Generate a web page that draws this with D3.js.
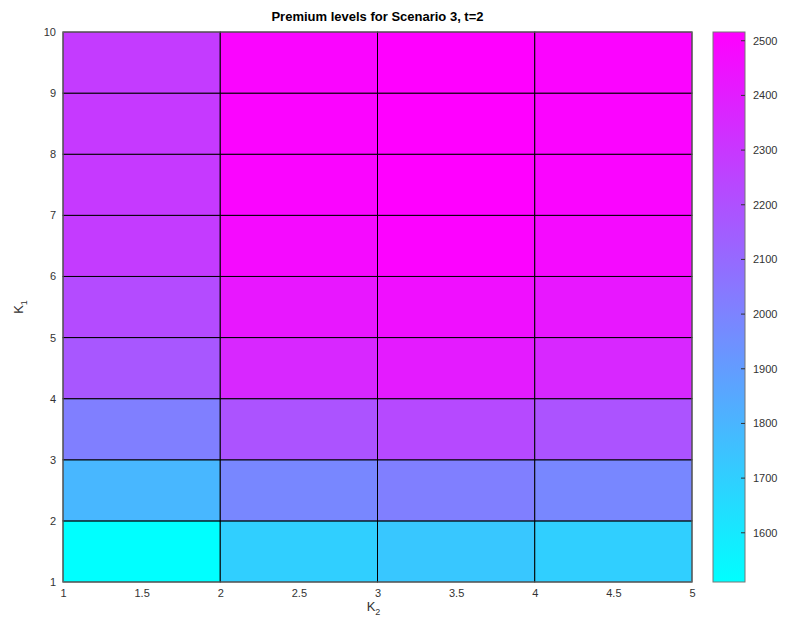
<!DOCTYPE html>
<html>
<head>
<meta charset="utf-8">
<script src="https://cdn.jsdelivr.net/npm/d3@7"></script>
<style>
  body { margin: 0; background: #fff; }
  text { font-family: "Liberation Sans", Arial, sans-serif; }
</style>
</head>
<body>
<svg id="chart" width="787" height="625"></svg>
<script>
// grid edges (pcolor style: last row/column of data is dropped)
var k2Edges = [1, 2, 3, 4, 5];
var k1Edges = [1, 2, 3, 4, 5, 6, 7, 8, 9, 10];
// premium per cell, one row per K1 band (bottom to top), one value per K2 band
var premium = [
  [1510, 1700, 1730, 1700],
  [1795, 1985, 2015, 1985],
  [2015, 2190, 2228, 2190],
  [2172, 2362, 2408, 2362],
  [2220, 2425, 2458, 2425],
  [2282, 2478, 2504, 2478],
  [2290, 2496, 2516, 2498],
  [2292, 2500, 2516, 2502],
  [2284, 2496, 2516, 2500]
];
var xTicks = [1, 1.5, 2, 2.5, 3, 3.5, 4, 4.5, 5];
var yTicks = [1, 2, 3, 4, 5, 6, 7, 8, 9, 10];
var cTicks = [1600, 1700, 1800, 1900, 2000, 2100, 2200, 2300, 2400, 2500];
var cMin = 1510, cMax = 2516;

var svg = d3.select("#chart");
var plotL = 63, plotR = 692, plotT = 32, plotB = 582;

var x = d3.scaleLinear().domain([1, 5]).range([plotL, plotR]);
var y = d3.scaleLinear().domain([1, 10]).range([plotB, plotT]);

// matlab "cool" colormap
function cool(v) {
  var t = Math.max(0, Math.min(1, (v - cMin) / (cMax - cMin)));
  return d3.rgb(Math.round(255 * t), Math.round(255 * (1 - t)), 255).toString();
}

// cells
var cells = [];
premium.forEach(function (row, i) {
  row.forEach(function (v, j) {
    cells.push({ i: i, j: j, v: v });
  });
});

svg.append("g").selectAll("rect")
  .data(cells)
  .enter()
  .append("rect")
  .attr("x", function (d) { return x(k2Edges[d.j]); })
  .attr("y", function (d) { return y(k1Edges[d.i + 1]); })
  .attr("width", function (d) { return x(k2Edges[d.j + 1]) - x(k2Edges[d.j]); })
  .attr("height", function (d) { return y(k1Edges[d.i]) - y(k1Edges[d.i + 1]); })
  .attr("fill", function (d) { return cool(d.v); })
  .attr("stroke", "#000")
  .attr("stroke-width", 1);

// axes (tick marks are hidden under the surface, only labels show)
var xAxis = d3.axisBottom(x).tickValues(xTicks).tickSize(0).tickPadding(7)
  .tickFormat(d3.format("~g"));
var yAxis = d3.axisLeft(y).tickValues(yTicks).tickSize(0).tickPadding(7)
  .tickFormat(d3.format("~g"));

var gx = svg.append("g").attr("transform", "translate(0," + plotB + ")").call(xAxis);
var gy = svg.append("g").attr("transform", "translate(" + plotL + ",0)").call(yAxis);
[gx, gy].forEach(function (g) {
  g.select(".domain").remove();
  g.selectAll("text").attr("font-size", 11).attr("fill", "#333");
});

// axes box
svg.append("rect")
  .attr("x", plotL).attr("y", plotT)
  .attr("width", plotR - plotL).attr("height", plotB - plotT)
  .attr("fill", "none").attr("stroke", "#777").attr("stroke-width", 1);

// title and labels
svg.append("text")
  .attr("x", (plotL + plotR) / 2).attr("y", 21)
  .attr("text-anchor", "middle")
  .attr("font-size", 13).attr("font-weight", "bold")
  .text("Premium levels for Scenario 3, t=2");

var xl = svg.append("text")
  .attr("x", (plotL + plotR) / 2 - 4).attr("y", 611)
  .attr("text-anchor", "middle").attr("font-size", 13).attr("fill", "#333");
xl.append("tspan").text("K");
xl.append("tspan").attr("font-size", 9).attr("dy", 4).text("2");

var yl = svg.append("text")
  .attr("transform", "translate(23," + ((plotT + plotB) / 2) + ") rotate(-90)")
  .attr("text-anchor", "middle").attr("font-size", 13).attr("fill", "#333");
yl.append("tspan").text("K");
yl.append("tspan").attr("font-size", 9).attr("dy", 4).text("1");

// colorbar
var cbL = 713, cbR = 745;
var c = d3.scaleLinear().domain([cMin, cMax]).range([plotB, plotT]);

var defs = svg.append("defs");
var grad = defs.append("linearGradient")
  .attr("id", "cbar")
  .attr("x1", 0).attr("y1", 1).attr("x2", 0).attr("y2", 0);
d3.range(0, 1.0001, 0.1).forEach(function (t) {
  grad.append("stop")
    .attr("offset", t)
    .attr("stop-color", cool(cMin + t * (cMax - cMin)));
});

svg.append("rect")
  .attr("x", cbL).attr("y", plotT)
  .attr("width", cbR - cbL).attr("height", plotB - plotT)
  .attr("fill", "url(#cbar)")
  .attr("stroke", "#777").attr("stroke-width", 1);

var cAxis = d3.axisRight(c).tickValues(cTicks).tickSize(0).tickPadding(8)
  .tickFormat(d3.format("d"));
var gc = svg.append("g").attr("transform", "translate(" + cbR + ",0)").call(cAxis);
gc.select(".domain").remove();
gc.selectAll("text").attr("font-size", 11).attr("fill", "#333");

// inward ticks on the colorbar's right edge
svg.append("g").selectAll("line")
  .data(cTicks)
  .enter()
  .append("line")
  .attr("x1", cbR - 4)
  .attr("x2", cbR)
  .attr("y1", function (d) { return c(d); })
  .attr("y2", function (d) { return c(d); })
  .attr("stroke", "#333");
</script>
</body>
</html>
